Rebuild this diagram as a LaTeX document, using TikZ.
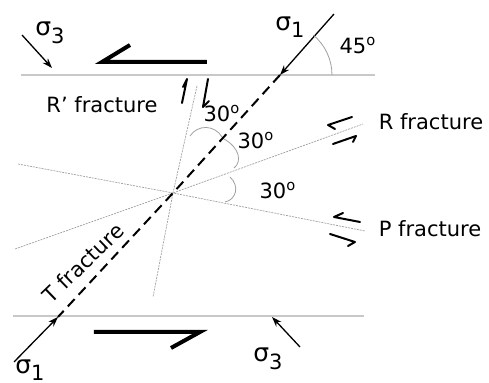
\documentclass[tikz,border=0pt]{standalone}
\usepackage{fontspec}
\setmainfont{DejaVu Sans}
\usetikzlibrary{arrows.meta}
\definecolor{tracegray}{RGB}{160, 160, 160}
\definecolor{wallgray}{RGB}{200, 200, 200}

\tikzset{
    trace/.style={tracegray, line width=0.35pt, dash pattern=on 1pt off 0.5pt},
    wall/.style={wallgray, line width=0.8pt},
    stress/.style={-{Stealth[length=5pt, width=3.5pt]}, line width=0.65pt},
    shear/.style={line width=2pt, line join=miter},
    sense/.style={line width=1pt, line cap=round, line join=round},
    angarc/.style={tracegray, line width=0.4pt},
    lbl/.style={font=\fontsize{10.5}{12}\selectfont, inner sep=0pt},
    sig/.style={font=\fontsize{12.5}{14}\selectfont, inner sep=0pt},
}

\begin{document}
\begin{tikzpicture}[x=0.5pt, y=-0.5pt, >=Stealth]
    \useasboundingbox (0,0) rectangle (489,383);
    % block boundaries
    \coordinate (tl) at (21,75);
    \coordinate (tr) at (375,75);
    \coordinate (bl) at (13,316);
    \coordinate (br) at (364,316);
    \draw[wall] (tl) -- (tr);
    \draw[wall] (bl) -- (br);
    % fracture traces
    \coordinate (c) at (173,193);
    \coordinate (rp1) at (197,86);
    \coordinate (rp2) at (153,297);
    \coordinate (r1) at (15,249);
    \coordinate (r2) at (363,124);
    \coordinate (p1) at (18,164);
    \coordinate (p2) at (365,231);
    \draw[trace] (rp1) -- (c) -- (rp2);
    \draw[trace] (r1) -- (c) -- (r2);
    \draw[trace] (p1) -- (c) -- (p2);
    % T fracture
    \coordinate (t1) at (280,75);
    \coordinate (t2) at (58,317);
    \draw[line width=1pt, dash pattern=on 5pt off 3pt] (t1) -- (c) -- (t2);
    % stresses
    \coordinate (s1a) at (334,14);
    \coordinate (s1b) at (14,362);
    \coordinate (s3a) at (22,35);
    \coordinate (s3b) at (300,347);
    \draw[stress] (s1a) -- (t1);
    \draw[stress] (s1b) -- (t2);
    \draw[stress] (s3a) -- (52,68);
    \draw[stress] (s3b) -- (272,317);
    \node[sig] (sig3a) at (50,33) {σ\raisebox{-0.55ex}{\fontsize{10.5}{12}\selectfont 3}};
    \node[sig] (sig1a) at (290,27) {σ\raisebox{-0.55ex}{\fontsize{10.5}{12}\selectfont 1}};
    \node[sig] (sig1b) at (30,370) {σ\raisebox{-0.55ex}{\fontsize{10.5}{12}\selectfont 1}};
    \node[sig] (sig3b) at (268,359) {σ\raisebox{-0.55ex}{\fontsize{10.5}{12}\selectfont 3}};
    % shear couple
    \draw[shear] (207,62) -- (102,62) -- (130,45);
    \draw[shear] (94,332) -- (200,332) -- (171,348);
    % angles
    \draw[angarc] (t1) ++(52,0) arc[start angle=0, end angle=-50, radius=52];
    \draw[angarc] (190,136) .. controls (198,124) and (215,125) .. (222,137);
    \draw[angarc] (224,139) .. controls (240,148) and (242,162) .. (234,168);
    \draw[angarc] (230,177) .. controls (240,186) and (236,200) .. (225,202);
    \node[lbl] (a45) at (358,46) {45\textsuperscript{o}};
    \node[lbl] (a30a) at (222,114) {30\textsuperscript{o}};
    \node[lbl] (a30b) at (256,141) {30\textsuperscript{o}};
    \node[lbl] (a30c) at (278,191) {30\textsuperscript{o}};
    % slip sense on the fractures
    \draw[sense] (182,103) -- (187,79) -- (183,87);
    \draw[sense] (208,79) -- (203,107) -- (209,101);
    \draw[sense] (352,117) -- (328,125) -- (335,129);
    \draw[sense] (333,144) -- (356,136) -- (353,142);
    \draw[sense] (360,222) -- (334,217) -- (343,213);
    \draw[sense] (330,234) -- (355,242) -- (348,246);
    % labels
    \node[lbl] (rplbl) at (102,105) {R' fracture};
    \node[lbl] (rlbl) at (431,122) {R fracture};
    \node[lbl] (plbl) at (430,229) {P fracture};
    \node[lbl, rotate=44] (tlbl) at (83,263) {T fracture};
\end{tikzpicture}
\end{document}
